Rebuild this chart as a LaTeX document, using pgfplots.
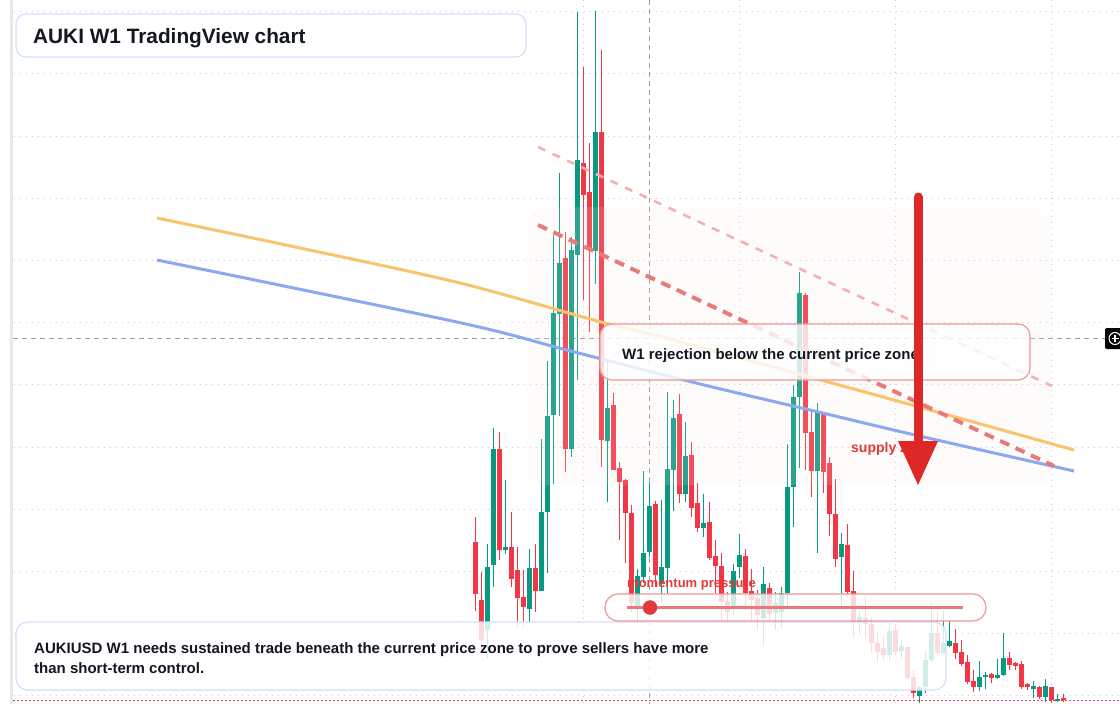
\documentclass[border=0pt]{standalone}
\usepackage{pgfplots}
\pgfplotsset{compat=1.18}
\usepackage{pgfplotstable}
\usepackage{fontspec}
\setmainfont{Liberation Sans}
\definecolor{tvgreen}{RGB}{8,153,129}
\definecolor{tvred}{RGB}{242,54,69}
\definecolor{txt}{RGB}{19,23,34}
\definecolor{gridc}{RGB}{200,203,210}
\definecolor{boxblue}{RGB}{210,225,250}
\definecolor{boxred}{RGB}{238,150,152}
\definecolor{lblred}{RGB}{226,58,58}
\definecolor{arrowred}{RGB}{222,40,40}
\definecolor{orangel}{RGB}{248,196,110}
\definecolor{bluel}{RGB}{140,168,242}
\definecolor{dashr}{RGB}{234,122,122}
\definecolor{dashl}{RGB}{245,176,176}
\definecolor{zonec}{RGB}{250,236,222}

% candles: x, body top, body bottom, high, low (screen rows, y axis reversed)
\pgfplotstableread{
x top bot hi lo
487.3 567 630 544 658
493.3 449 565 428 587
505.3 547 550 480 554
529.3 568 609 549 622
541.3 512 591 439 591
547.3 416 512 361 573
553.3 313 415 235 484
559.3 263 314 173 416
571.3 250 449 237 457
577.3 160 255 12 380
595.3 132 251 11 284
607.3 408 441 362 502
637.3 576 607 569 623
643.3 553 577 471 583
649.3 506 552 482 557
661.3 567 583 500 602
667.3 469 568 392 593
673.3 418 470 400 511
685.3 456 494 422 502
703.3 523 528 494 537
733.3 571 608 564 615
739.3 555 567 534 578
763.3 584 618 567 645
775.3 603 613 592 630
781.3 593 612 587 628
787.3 487 593 444 610
793.3 397 487 385 527
799.3 293 397 272 468
817.3 412 471 403 553
841.3 544 557 533 610
859.3 617 622 611 635
889.3 631 655 623 660
901.3 646 651 640 658
919.3 687 696 686 703
925.3 660 687 651 693
931.3 633 660 603 662
943.3 643 653 610 655
949.3 641 646 620 647
979.3 677 687 661 691
985.3 675 676.5 672 689
997.3 675 678 659 679
1003.3 658 675 633 676
1033.3 686 689 681 698
1045.3 686 697 679 702
1057.3 699 700.5 694 702
}\greentab

\pgfplotstableread{
x top bot hi lo
475.3 542 594 517 611
481.3 600 640 572 650
499.3 449 550 432 560
511.3 547 579 512 587
517.3 570 598 547 627
523.3 597 607 570 627
535.3 568 591 544 612
565.3 258 449 232 472
583.3 163 195 67 300
589.3 192 250 143 332
601.3 132 440 50 467
613.3 405 470 393 470
619.3 468 482 462 540
625.3 480 513 479 563
631.3 513 603 505 612
655.3 504 575 501 587
679.3 414 494 394 503
691.3 455 508 442 517
697.3 503 528 483 532
709.3 522 558 502 560
715.3 556 566 540 593
721.3 566 602 553 620
727.3 601 612 592 622
745.3 556 593 549 610
751.3 591 600 569 620
757.3 598 615 590 630
769.3 588 614 583 620
805.3 295 433 293 470
811.3 432 471 412 497
823.3 412 472 412 493
829.3 463 514 457 536
835.3 514 559 479 567
847.3 545 592 524 597
853.3 591 622 571 637
865.3 618 624 597 639
871.3 624 643 617 652
877.3 643 652 633 662
883.3 648 655 637 660
895.3 630 652 624 655
907.3 647 678 647 680
913.3 677 693 670 698
937.3 633 653 612 655
955.3 643 653 629 659
961.3 652 664 640 666
967.3 662 682 655 684
973.3 681 687 670 692
991.3 674 678 673 683
1009.3 658 665 652 670
1015.3 663 666 662 670
1021.3 664 687 661 689
1027.3 684 687 683 690
1039.3 687 697 686 699
1051.3 687 700 687 703
1063.3 698 700 694 702
}\redtab

\begin{document}
\begin{tikzpicture}
\begin{axis}[hide axis, scale only axis, width=1120pt, height=704pt,
  xmin=0, xmax=1120, ymin=0, ymax=704, y dir=reverse, clip=true]
\fill[white] (axis cs:0,0) rectangle (axis cs:1120,704);
\fill[gray!18] (axis cs:10,0) rectangle (axis cs:13,704);
% grid
\foreach \yy in {11.7,73.9,136.1,198.3,260.5,322.7,384.9,447.1,509.3,571.5,633.7,695.9}{
  \edef\tmp{\noexpand\draw[gridc, line width=0.9pt, dash pattern=on 1.2pt off 4.8pt] (axis cs:14,\yy) -- (axis cs:1120,\yy);}\tmp
}
\foreach \xx in {583.3,739.3,895.3,1051.3}{
  \edef\tmp{\noexpand\draw[gridc, line width=0.9pt, dash pattern=on 1.2pt off 4.8pt] (axis cs:\xx,0) -- (axis cs:\xx,704);}\tmp
}
\draw[tvred, line width=1pt, dash pattern=on 1.5pt off 2.5pt] (axis cs:13,700) -- (axis cs:1120,700);
% crosshair
\draw[gray!75, line width=0.9pt, dash pattern=on 5pt off 4pt] (axis cs:13,338) -- (axis cs:1105,338);
\draw[gray!75, line width=0.9pt, dash pattern=on 5pt off 4pt] (axis cs:649,0) -- (axis cs:649,704);

% candles
\addplot[draw=none, mark=none, error bars/.cd, y dir=both, y explicit, error mark=none,
  error bar style={draw=tvgreen, line width=1pt}]
  table[x=x, y expr={(\thisrow{hi}+\thisrow{lo})/2}, y error expr={(\thisrow{lo}-\thisrow{hi})/2}]{\greentab};
\addplot[draw=none, mark=none, error bars/.cd, y dir=both, y explicit, error mark=none,
  error bar style={draw=tvgreen, line width=4.6pt}]
  table[x=x, y expr={(\thisrow{top}+\thisrow{bot})/2}, y error expr={max((\thisrow{bot}-\thisrow{top})/2,0.6)}]{\greentab};
\addplot[draw=none, mark=none, error bars/.cd, y dir=both, y explicit, error mark=none,
  error bar style={draw=tvred, line width=1pt}]
  table[x=x, y expr={(\thisrow{hi}+\thisrow{lo})/2}, y error expr={(\thisrow{lo}-\thisrow{hi})/2}]{\redtab};
\addplot[draw=none, mark=none, error bars/.cd, y dir=both, y explicit, error mark=none,
  error bar style={draw=tvred, line width=4.6pt}]
  table[x=x, y expr={(\thisrow{top}+\thisrow{bot})/2}, y error expr={max((\thisrow{bot}-\thisrow{top})/2,0.6)}]{\redtab};

% supply zone
\fill[zonec, fill opacity=0.14, rounded corners=14pt] (axis cs:527,207) rectangle (axis cs:1050,485);

% trend curves
\addplot[orangel, line width=3pt, smooth, tension=0.5] coordinates {(157,218) (300,248) (460,283) (600,321.7) (680,341.7) (900,401.7) (1074,450)};
\addplot[bluel, line width=3pt, smooth, tension=0.5] coordinates {(157,260) (460,322.7) (566.7,350) (700,384) (810,410) (915,435) (1074,471)};
\addplot[dashl, line width=2.6pt, dash pattern=on 8pt off 8pt] coordinates {(538,147) (1052,386)};
\addplot[dashr, line width=4pt, dash pattern=on 10pt off 7pt] coordinates {(538,225) (1054,466)};

% boxes
\filldraw[draw=boxblue, line width=1.2pt, fill=white, fill opacity=0.85, draw opacity=1, rounded corners=10pt] (axis cs:16,14) rectangle (axis cs:526,57);
\filldraw[draw=boxblue, line width=1.2pt, fill=white, fill opacity=0.82, draw opacity=1, rounded corners=12pt] (axis cs:16,622) rectangle (axis cs:946,690);
\filldraw[draw=boxred, line width=1.2pt, fill=white, fill opacity=0.8, draw opacity=1, rounded corners=12pt] (axis cs:600,324) rectangle (axis cs:1030,380);
\filldraw[draw=boxred, line width=1.2pt, fill=white, fill opacity=0.8, draw opacity=1, rounded corners=13pt] (axis cs:605,594) rectangle (axis cs:986,621);

% momentum line and dot
\addplot[dashr, line width=3.5pt] coordinates {(627,607.5) (963,607.5)};
\addplot[only marks, mark=*, mark size=7pt, lblred, mark options={draw=lblred, fill=lblred}] coordinates {(650,607.5)};

% texts
\node[anchor=base west, inner sep=0pt, text=txt, font=\fontsize{20.8}{24}\selectfont\bfseries] at (axis cs:33,43.5) {AUKI W1 TradingView chart};
\node[anchor=base west, inner sep=0pt, text=txt, font=\fontsize{15}{18}\selectfont\bfseries] at (axis cs:34,653.5) {AUKIUSD W1 needs sustained trade beneath the current price zone to prove sellers have more};
\node[anchor=base west, inner sep=0pt, text=txt, font=\fontsize{15}{18}\selectfont\bfseries] at (axis cs:34,673.5) {than short-term control.};
\node[anchor=base west, inner sep=0pt, text=txt, font=\fontsize{15}{18}\selectfont\bfseries] at (axis cs:622,359.5) {W1 rejection below the current price zone};
\node[anchor=base west, inner sep=0pt, text=lblred, font=\fontsize{13}{16}\selectfont\bfseries] at (axis cs:627,587) {momentum pressure};
\node[anchor=base west, inner sep=0pt, text=lblred, font=\fontsize{14}{16}\selectfont\bfseries] at (axis cs:851,452.5) {supply zone};

% arrow
\draw[arrowred, line width=9pt, line cap=round] (axis cs:918,197) -- (axis cs:918,445);
\fill[arrowred] (axis cs:898,441) -- (axis cs:938,441) -- (axis cs:918,485) -- cycle;

% badge
\fill[black, rounded corners=2pt] (axis cs:1105,328) rectangle (axis cs:1126,349);
\draw[white, line width=1pt] (axis cs:1115,338.5) circle[radius=6pt];
\draw[white, line width=1.1pt] (axis cs:1111.5,338.5) -- (axis cs:1118.5,338.5) (axis cs:1115,335) -- (axis cs:1115,342);
\end{axis}
\end{tikzpicture}
\end{document}
